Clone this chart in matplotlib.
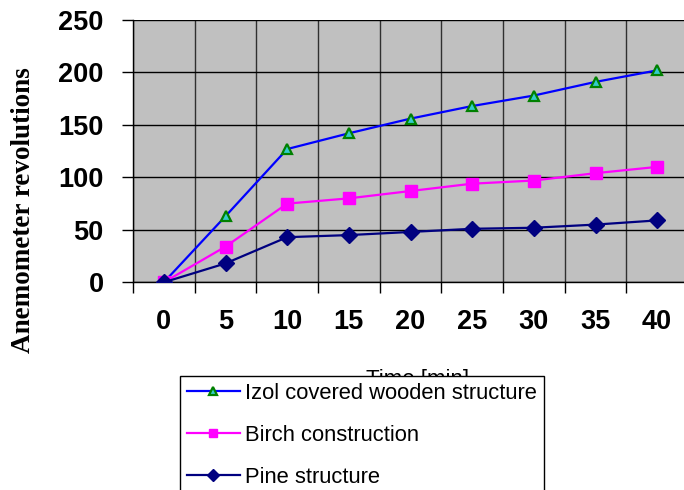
import numpy as np
import matplotlib.pyplot as plt

# time in minutes and anemometer revolutions
time_min = ["0", "5", "10", "15", "20", "25", "30", "35", "40"]
izol = [0, 63, 127, 142, 156, 168, 178, 191, 202]
birch = [0, 34, 75, 80, 87, 94, 97, 104, 110]
pine = [0, 18, 43, 45, 48, 51, 52, 55, 59]

labels = ["Izol covered wooden structure", "Birch construction", "Pine structure"]

W, H = 684, 490
fig = plt.figure(figsize=(W / 100, H / 100), dpi=100)
ax = fig.add_axes([133 / W, 1 - 282.3 / H, 555 / W, 262.3 / H])
ax.set_facecolor("#C0C0C0")

x = np.arange(len(time_min))
l1, = ax.plot(x, izol, color="#0000FF", lw=1.6, marker="^", ms=7,
              mfc="#33CCCC", mec="#008000", mew=1.6, zorder=3)
l2, = ax.plot(x, birch, color="#FF00FF", lw=1.6, marker="s", ms=8,
              mfc="#FF00FF", mec="#FF00FF", zorder=3)
l3, = ax.plot(x, pine, color="#000080", lw=1.6, marker="D", ms=8.5,
              mfc="#000080", mec="#000080", zorder=3)

ax.set_xlim(-0.5, len(time_min) - 0.5)
ax.set_ylim(0, 250)

# labels sit at the points, tick marks and grid at the cell borders
ax.set_xticks(x)
ax.set_xticklabels(time_min)
ax.set_xticks(np.arange(len(time_min) + 1) - 0.5, minor=True)
ax.tick_params(axis="x", which="major", length=0, pad=19)
ax.tick_params(axis="x", which="minor", length=8, width=1, color="black")
ax.set_yticks(np.arange(0, 251, 50))
ax.tick_params(axis="y", length=8, width=1, pad=13)

tick_font = dict(family="Liberation Sans", weight="bold", size=19.5)
for t in ax.get_xticklabels() + ax.get_yticklabels():
    t.set_fontproperties(tick_font)

ax.grid(axis="x", which="minor", color="#303030", lw=1)
ax.grid(axis="y", which="major", color="black", lw=1)
ax.set_axisbelow(True)

for side in ["top", "right"]:
    ax.spines[side].set_visible(False)
for side in ["left", "bottom"]:
    ax.spines[side].set_color("black")
    ax.spines[side].set_linewidth(1)

fig.text(24 / W, 1 - 210 / H, "Anemometer revolutions", rotation=90,
         ha="center", va="center", family="Liberation Serif",
         weight="bold", size=19.5)
# in the original the legend box sits over most of this label
fig.text(418 / W, 1 - 379 / H, "Time [min]", ha="center", va="center",
         family="Liberation Sans", size=16, zorder=1)

leg = fig.legend([l1, l2, l3], labels, loc="upper left",
                 bbox_to_anchor=(180 / W, 1 - 376 / H),
                 prop=dict(family="Liberation Sans", size=15.8),
                 frameon=True, fancybox=False, framealpha=1,
                 edgecolor="black", handlelength=2.4, handletextpad=0.25,
                 borderpad=0.32, borderaxespad=0, labelspacing=0.95,
                 markerscale=0.75)
leg.get_frame().set_linewidth(1)
leg.set_zorder(5)

fig.savefig("out.png", dpi=100)
